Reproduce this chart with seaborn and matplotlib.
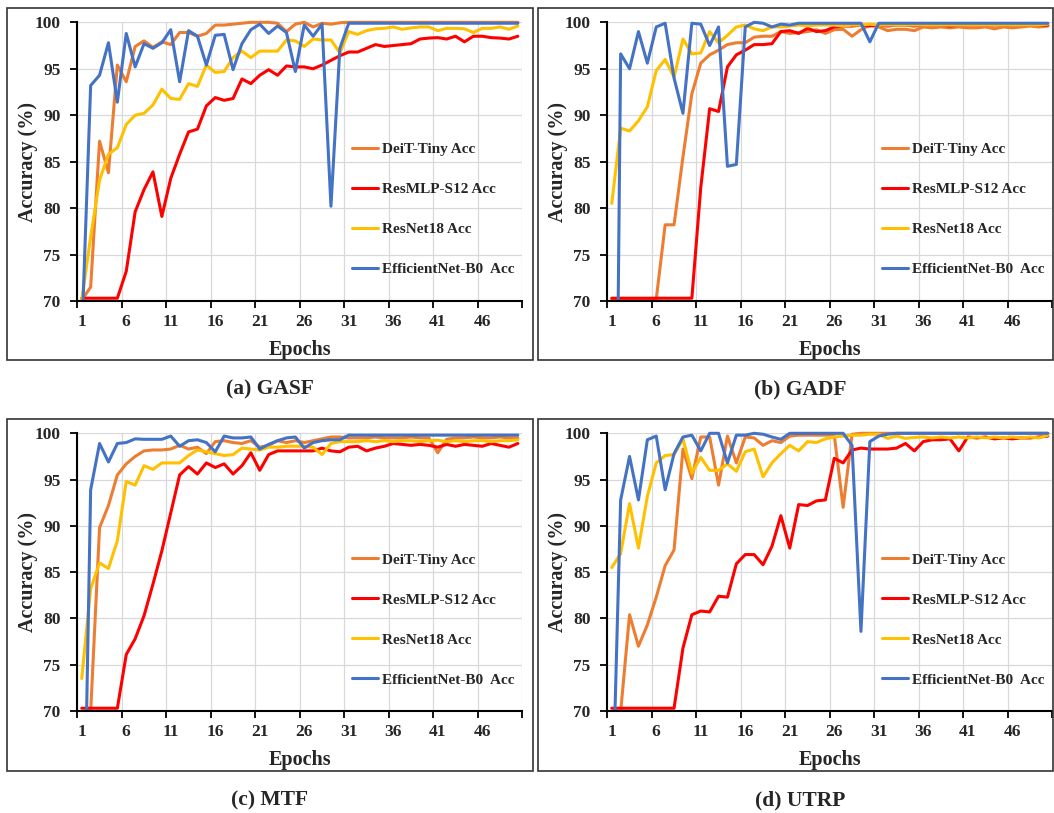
import numpy as np
import pandas as pd
import seaborn as sns
import matplotlib
matplotlib.use("Agg")
import matplotlib.pyplot as plt
from matplotlib.patches import Rectangle
from matplotlib.ticker import NullFormatter

# ---------------- data ----------------
epochs = list(range(1, 51))
models = ["DeiT-Tiny Acc", "ResMLP-S12 Acc", "ResNet18 Acc", "EfficientNet-B0  Acc"]
colors = ["#ED7D31", "#FF0000", "#FFC000", "#4472C4"]
x_tick_labels = ["1", "6", "11", "16", "21", "26", "31", "36", "41", "46"]
y_ticks = [70, 75, 80, 85, 90, 95, 100]
panel_titles = ["(a) GASF", "(b) GADF", "(c) MTF", "(d) UTRP"]

gasf_deit = [70.1, 71.5, 87.2, 83.8, 95.4, 93.6, 97.4, 98.0, 97.3, 97.9,
             97.6, 98.9, 98.9, 98.5, 98.8, 99.7, 99.7, 99.8, 99.9, 100.0,
             100.0, 100.0, 99.9, 99.0, 99.8, 100.0, 99.5, 99.9, 99.8, 99.95,
             100.0, 100.0, 100.0, 100.0, 100.0, 100.0, 100.0, 100.0, 100.0, 100.0,
             100.0, 100.0, 100.0, 100.0, 100.0, 100.0, 100.0, 100.0, 100.0, 100.0]
gasf_resmlp = [70.3, 70.3, 70.3, 70.3, 70.3, 73.2, 79.6, 82.0, 83.9, 79.1,
               83.2, 85.8, 88.2, 88.5, 91.0, 91.9, 91.6, 91.8, 93.9, 93.4,
               94.3, 94.9, 94.3, 95.3, 95.2, 95.2, 95.0, 95.4, 95.9, 96.4,
               96.8, 96.8, 97.2, 97.6, 97.4, 97.5, 97.6, 97.7, 98.2, 98.3,
               98.35, 98.2, 98.5, 97.9, 98.5, 98.5, 98.35, 98.3, 98.2, 98.5]
gasf_resnet = [70.1, 76.9, 83.0, 85.8, 86.5, 89.0, 90.0, 90.2, 91.1, 92.8,
               91.8, 91.7, 93.4, 93.1, 95.4, 94.6, 94.7, 96.2, 96.9, 96.2,
               96.9, 96.9, 96.9, 98.1, 98.0, 97.4, 98.2, 98.1, 98.1, 96.7,
               99.0, 98.7, 99.1, 99.3, 99.35, 99.5, 99.25, 99.4, 99.5, 99.5,
               99.1, 99.35, 99.35, 99.3, 98.9, 99.35, 99.35, 99.5, 99.25, 99.6]
gasf_effnet = [66.0, 93.2, 94.3, 97.8, 91.4, 98.8, 95.2, 97.7, 97.2, 97.8,
               99.2, 93.6, 99.1, 98.5, 95.4, 98.6, 98.7, 94.9, 97.7, 99.2,
               99.8, 98.8, 99.6, 98.9, 94.7, 99.7, 98.5, 99.8, 80.2, 97.2,
               99.9, 99.9, 99.9, 99.9, 99.9, 99.9, 99.9, 99.9, 99.9, 99.9,
               99.9, 99.9, 99.9, 99.9, 99.9, 99.9, 99.9, 99.9, 99.9, 99.9]

gadf_deit = [70.2, 70.2, 70.2, 70.2, 70.2, 70.2, 78.2, 78.2, 85.5, 92.3,
             95.6, 96.5, 97.0, 97.6, 97.8, 97.8, 98.4, 98.5, 98.5, 99.0,
             98.8, 98.9, 99.0, 99.2, 98.8, 99.2, 99.25, 98.5, 99.2, 99.7,
             99.5, 99.1, 99.25, 99.25, 99.1, 99.5, 99.4, 99.5, 99.4, 99.5,
             99.4, 99.4, 99.5, 99.3, 99.5, 99.4, 99.5, 99.6, 99.5, 99.6]
gadf_resmlp = [70.3, 70.3, 70.3, 70.3, 70.3, 70.3, 70.3, 70.3, 70.3, 70.3,
               82.2, 90.7, 90.4, 95.2, 96.5, 97.0, 97.6, 97.6, 97.7, 99.0,
               99.1, 98.8, 99.35, 99.0, 99.1, 99.5, 99.6, 99.6, 99.7, 99.6,
               99.7, 99.6, 99.7, 99.7, 99.6, 99.7, 99.7, 99.7, 99.6, 99.7,
               99.7, 99.7, 99.7, 99.7, 99.7, 99.7, 99.7, 99.7, 99.7, 99.7]
gadf_resnet = [80.5, 88.6, 88.3, 89.4, 90.9, 94.8, 96.0, 94.1, 98.2, 96.6,
               96.7, 99.0, 97.8, 98.6, 99.5, 99.7, 99.3, 99.1, 99.5, 99.5,
               99.6, 99.7, 99.6, 99.7, 99.7, 99.7, 99.6, 99.7, 99.7, 99.8,
               99.7, 99.7, 99.7, 99.7, 99.7, 99.7, 99.7, 99.7, 99.7, 99.7,
               99.7, 99.7, 99.7, 99.7, 99.7, 99.7, 99.7, 99.7, 99.7, 99.8]
gadf_effnet = [0.0, 96.6, 95.0, 99.0, 95.6, 99.5, 99.9, 94.0, 90.2, 99.9,
               99.8, 97.5, 99.5, 84.5, 84.7, 99.5, 100.0, 99.9, 99.5, 99.8,
               99.7, 99.9, 99.9, 99.9, 99.9, 99.9, 99.9, 99.9, 99.9, 97.9,
               99.9, 99.9, 99.9, 99.9, 99.9, 99.9, 99.9, 99.9, 99.9, 99.9,
               99.9, 99.9, 99.9, 99.9, 99.9, 99.9, 99.9, 99.9, 99.9, 99.9]

mtf_deit = [60.0, 69.9, 89.8, 92.2, 95.5, 96.7, 97.5, 98.1, 98.2, 98.2,
            98.3, 98.7, 98.3, 98.5, 97.8, 99.1, 99.2, 99.0, 98.9, 99.2,
            98.5, 98.7, 99.2, 99.0, 99.2, 99.0, 99.2, 99.4, 99.6, 99.6,
            99.5, 99.5, 99.5, 99.6, 99.5, 99.5, 99.5, 99.6, 99.5, 99.5,
            97.9, 99.35, 99.5, 99.5, 99.6, 99.5, 99.5, 99.6, 99.5, 99.5]
mtf_resmlp = [70.3, 70.3, 70.3, 70.3, 70.3, 76.1, 77.8, 80.3, 83.7, 87.3,
              91.4, 95.5, 96.4, 95.6, 96.8, 96.3, 96.7, 95.6, 96.5, 97.9,
              96.0, 97.7, 98.1, 98.1, 98.1, 98.1, 98.1, 98.4, 98.1, 98.0,
              98.5, 98.6, 98.1, 98.4, 98.6, 98.9, 98.8, 98.7, 98.8, 98.7,
              98.5, 98.8, 98.6, 98.8, 98.7, 98.6, 98.9, 98.7, 98.5, 98.9]
mtf_resnet = [73.5, 83.2, 86.0, 85.4, 88.4, 94.8, 94.4, 96.5, 96.1, 96.8,
              96.8, 96.8, 97.6, 98.2, 98.0, 97.8, 97.6, 97.7, 98.4, 98.3,
              98.2, 98.5, 98.5, 98.6, 98.6, 98.6, 98.5, 97.7, 98.9, 99.1,
              99.1, 99.1, 99.2, 99.1, 99.2, 99.1, 99.2, 99.2, 99.1, 99.2,
              99.25, 99.1, 99.2, 99.1, 99.2, 99.2, 99.1, 99.2, 99.2, 99.3]
mtf_effnet = [41.0, 93.9, 98.9, 96.9, 98.9, 99.0, 99.4, 99.35, 99.35, 99.35,
              99.7, 98.6, 99.2, 99.3, 99.0, 98.0, 99.7, 99.5, 99.5, 99.6,
              98.3, 98.8, 99.2, 99.5, 99.6, 98.4, 99.0, 99.2, 99.3, 99.3,
              99.8, 99.8, 99.8, 99.8, 99.8, 99.8, 99.8, 99.8, 99.8, 99.8,
              99.8, 99.8, 99.8, 99.8, 99.8, 99.8, 99.8, 99.8, 99.8, 99.8]

utrp_deit = [60.0, 69.9, 80.4, 77.0, 79.3, 82.3, 85.7, 87.4, 98.3, 95.1,
             99.6, 99.6, 94.4, 99.7, 96.8, 99.6, 99.5, 98.7, 99.2, 99.0,
             99.7, 99.8, 99.8, 99.8, 99.8, 99.8, 92.0, 99.9, 100.0, 100.0,
             100.0, 100.0, 100.0, 100.0, 100.0, 100.0, 100.0, 100.0, 100.0, 100.0,
             100.0, 100.0, 100.0, 100.0, 100.0, 100.0, 100.0, 100.0, 100.0, 100.0]
utrp_resmlp = [70.3, 70.3, 70.3, 70.3, 70.3, 70.3, 70.3, 70.3, 76.8, 80.4,
               80.8, 80.7, 82.4, 82.3, 85.9, 86.9, 86.9, 85.8, 87.8, 91.1,
               87.6, 92.3, 92.2, 92.7, 92.8, 97.3, 96.8, 98.2, 98.4, 98.3,
               98.3, 98.3, 98.4, 98.9, 98.1, 99.1, 99.3, 99.3, 99.4, 98.1,
               99.6, 99.5, 99.6, 99.4, 99.5, 99.4, 99.5, 99.5, 99.6, 99.7]
utrp_resnet = [85.5, 87.0, 92.4, 87.6, 93.2, 96.8, 97.6, 97.7, 99.4, 95.7,
               97.4, 96.0, 96.0, 96.7, 95.9, 98.0, 98.3, 95.3, 96.8, 97.8,
               98.7, 98.1, 99.1, 99.0, 99.4, 99.6, 99.7, 99.8, 99.8, 99.9,
               99.9, 99.45, 99.7, 99.45, 99.55, 99.6, 99.5, 99.6, 99.5, 99.6,
               99.5, 99.6, 99.5, 99.6, 99.5, 99.6, 99.5, 99.6, 99.5, 99.8]
utrp_effnet = [57.0, 92.8, 97.5, 92.8, 99.3, 99.7, 93.9, 97.8, 99.6, 99.8,
               98.1, 100.0, 100.0, 96.8, 99.8, 99.8, 100.0, 99.9, 99.6, 99.35,
               100.0, 100.0, 100.0, 100.0, 100.0, 100.0, 100.0, 98.7, 78.6, 99.1,
               99.7, 99.9, 100.0, 100.0, 100.0, 100.0, 100.0, 100.0, 100.0, 100.0,
               100.0, 100.0, 100.0, 100.0, 100.0, 100.0, 100.0, 100.0, 100.0, 100.0]

panels = [
    [gasf_deit, gasf_resmlp, gasf_resnet, gasf_effnet],
    [gadf_deit, gadf_resmlp, gadf_resnet, gadf_effnet],
    [mtf_deit, mtf_resmlp, mtf_resnet, mtf_effnet],
    [utrp_deit, utrp_resmlp, utrp_resnet, utrp_effnet],
]

# ---------------- style ----------------
sns.set_style("white")
plt.rcParams["font.family"] = ["Liberation Serif", "DejaVu Serif"]
plt.rcParams["font.weight"] = "bold"
plt.rcParams["axes.labelweight"] = "bold"

W, H = 1054, 813
fig = plt.figure(figsize=(W / 100, H / 100), dpi=100)
fig.patch.set_facecolor("white")

# axes rectangles in pixels: left, top, right, bottom
axes_px = [(77.3, 22.3, 522.3, 301.0), (607.3, 22.3, 1052.3, 301.0),
           (77.3, 433.3, 522.3, 711.0), (607.3, 433.3, 1052.3, 711.0)]
border_px = [(7, 8, 533, 360), (538, 8, 1053, 360),
             (7, 419, 533, 771), (538, 419, 1053, 771)]
caption_px = [(270, 389), (800, 389), (270, 800), (800, 800)]

for i in range(4):
    l, t, r, b = axes_px[i]
    ax = fig.add_axes([l / W, 1 - b / H, (r - l) / W, (b - t) / H])
    series = panels[i]
    df = pd.DataFrame({
        "Epochs": epochs * 4,
        "Accuracy": sum(series, []),
        "Model": sum([[m] * len(epochs) for m in models], []),
    })
    sns.lineplot(data=df, x="Epochs", y="Accuracy", hue="Model",
                 hue_order=models, palette=colors, linewidth=2.2,
                 estimator=None, sort=False, ax=ax)
    clip = Rectangle((0, 0), 1, 1.02, transform=ax.transAxes)
    for ln in ax.lines:
        ln.set_clip_path(clip)
        ln.set_solid_joinstyle("round")

    ax.set_xlim(0.5, 50.5)
    ax.set_ylim(70, 100)
    ax.set_xticks(np.arange(0.5, 51, 5))
    ax.xaxis.set_major_formatter(NullFormatter())
    ax.set_xticks(epochs[::5], minor=True)
    ax.set_xticklabels(x_tick_labels, minor=True)
    ax.set_yticks(y_ticks)
    ax.set_yticklabels([str(v) for v in y_ticks])
    ax.tick_params(axis="x", which="major", length=5, width=1.3,
                   direction="out", color="black", bottom=True)
    ax.tick_params(axis="x", which="minor", length=0, pad=9,
                   labelsize=12.5)
    ax.tick_params(axis="y", which="major", length=5, width=1.3,
                   direction="out", color="black", left=True, pad=7,
                   labelsize=12.5)
    ax.grid(True, which="major", axis="both", color="#D9D9D9", lw=0.9)
    ax.set_axisbelow(True)
    for s in ["top", "right"]:
        ax.spines[s].set_visible(False)
    for s in ["left", "bottom"]:
        ax.spines[s].set_color("black")
        ax.spines[s].set_linewidth(1.5)

    ax.set_xlabel("Epochs", fontsize=14.5, fontweight="bold")
    ax.set_ylabel("Accuracy (%)", fontsize=14.5, fontweight="bold")
    ax.xaxis.set_label_coords(0.5, -0.14)
    ax.yaxis.set_label_coords(-0.089, 0.5)

    handles, labels = ax.get_legend_handles_labels()
    leg = ax.legend(handles, labels, loc="center left",
                    bbox_to_anchor=(0.617, 0.328), frameon=False,
                    borderpad=0, borderaxespad=0, handlelength=1.7,
                    handletextpad=0.25, labelspacing=1.72,
                    prop={"family": "Liberation Serif", "weight": "bold",
                          "size": 11})
    for lh in leg.get_lines():
        lh.set_linewidth(2.2)

    bl, bt, br, bb = border_px[i]
    fig.add_artist(Rectangle((bl / W, 1 - bb / H), (br - bl) / W, (bb - bt) / H,
                             transform=fig.transFigure, fill=False,
                             ec="#333333", lw=1.2))
    cx, cy = caption_px[i]
    fig.text(cx / W, 1 - cy / H, panel_titles[i], ha="center", va="center",
             fontsize=15.5, fontweight="bold")

fig.savefig("out.png", dpi=100, facecolor="white")
